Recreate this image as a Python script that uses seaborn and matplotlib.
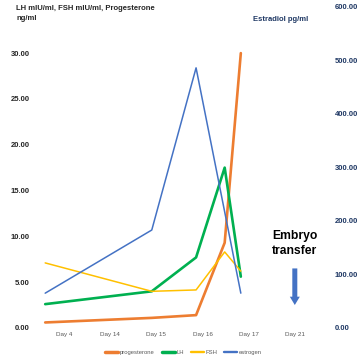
import numpy as np
import pandas as pd
import matplotlib
matplotlib.use('Agg')
import matplotlib.pyplot as plt
import seaborn as sns
from matplotlib.lines import Line2D

# category labels on the x axis
days = ['Day 4', 'Day 14', 'Day 15', 'Day 16', 'Day 17', 'Day 21']

# x positions (category units) where each series has a point
x_prog = [-0.41, 1.90, 2.86, 3.48, 3.83]
prog = [0.6, 1.1, 1.4, 9.3, 30.0]

x_lh = [-0.41, 1.90, 2.86, 3.48, 3.83]
lh = [2.6, 4.0, 7.7, 17.5, 5.6]

x_fsh = [-0.41, 1.90, 2.86, 3.48, 3.83]
fsh = [7.1, 4.0, 4.15, 8.3, 6.2]

x_estr = [-0.41, 1.90, 2.86, 3.83]
estr = [65, 183, 486, 65]

left_ticks = [0, 5, 10, 15, 20, 25, 30]
right_ticks = [0, 100, 200, 300, 400, 500, 600]

colors = {'progesterone': '#ED7D31', 'LH': '#00B050', 'FSH': '#FFC000', 'estrogen': '#4472C4'}
widths = {'progesterone': 1.9, 'LH': 1.9, 'FSH': 1.1, 'estrogen': 1.1}

left_df = pd.concat([
    pd.DataFrame({'x': x_prog, 'val': prog, 'series': 'progesterone'}),
    pd.DataFrame({'x': x_lh, 'val': lh, 'series': 'LH'}),
    pd.DataFrame({'x': x_fsh, 'val': fsh, 'series': 'FSH'}),
])
right_df = pd.DataFrame({'x': x_estr, 'val': estr, 'series': 'estrogen'})

sns.set_theme(style='white')
plt.rcParams['font.family'] = ['Liberation Sans', 'DejaVu Sans']

fig = plt.figure(figsize=(3.6, 3.6), dpi=100)
ax = fig.add_axes([0.114, 0.089, 0.769, 0.892])
ax2 = ax.twinx()

for name in ['progesterone', 'LH', 'FSH']:
    sub = left_df[left_df['series'] == name]
    sns.lineplot(data=sub, x='x', y='val', ax=ax, color=colors[name],
                 linewidth=widths[name], sort=False, legend=False)
sns.lineplot(data=right_df, x='x', y='val', ax=ax2, color=colors['estrogen'],
             linewidth=widths['estrogen'], sort=False, legend=False)

ax.set_xlim(-0.5, 5.5)
ax.set_ylim(0, 35.05)
ax2.set_ylim(0, 600)
ax.set_xticks(range(len(days)))
ax.set_xticklabels(days, fontsize=4.5, color='#595959')
ax.set_yticks(left_ticks)
ax.set_yticklabels([f'{v:.2f}' for v in left_ticks], fontsize=5.5, fontweight='bold', color='#262626')
ax2.set_yticks(right_ticks)
ax2.set_yticklabels([f'{v:.2f}' for v in right_ticks], fontsize=5.5, fontweight='bold', color='#1F3864')
for a in (ax, ax2):
    a.set_xlabel('')
    a.set_ylabel('')
    for s in a.spines.values():
        s.set_visible(False)
    a.tick_params(length=0)
ax.tick_params(axis='y', pad=8)
ax2.tick_params(axis='y', pad=12)
ax.tick_params(axis='x', pad=3)

# embryo transfer annotation
ax.text(5, 9.2, 'Embryo\ntransfer', ha='center', va='center', fontsize=8.7,
        fontweight='bold', color='black', linespacing=1.4)
ax.annotate('', xy=(5, 2.2), xytext=(5, 6.8),
            arrowprops=dict(arrowstyle='simple,head_width=0.6,head_length=0.5,tail_width=0.3',
                            color='#4472C4', lw=0))

fig.text(0.045, 0.985, 'LH mIU/ml, FSH mIU/ml, Progesterone\nng/ml', ha='left', va='top',
         fontsize=5.5, fontweight='bold', color='#262626', linespacing=1.5)
fig.text(0.78, 0.947, 'Estradiol pg/ml', ha='center', va='center',
         fontsize=5.5, fontweight='bold', color='#1F3864')

handles = [Line2D([0], [0], color=colors[n], lw=widths[n] + 0.6) for n in colors]
fig.legend(handles, list(colors), loc='center', bbox_to_anchor=(0.51, 0.022), ncol=4,
           frameon=False, fontsize=4.2, handlelength=2.2, handletextpad=0.3,
           columnspacing=1.2, labelcolor='#595959')

fig.savefig('out.png', dpi=100)
